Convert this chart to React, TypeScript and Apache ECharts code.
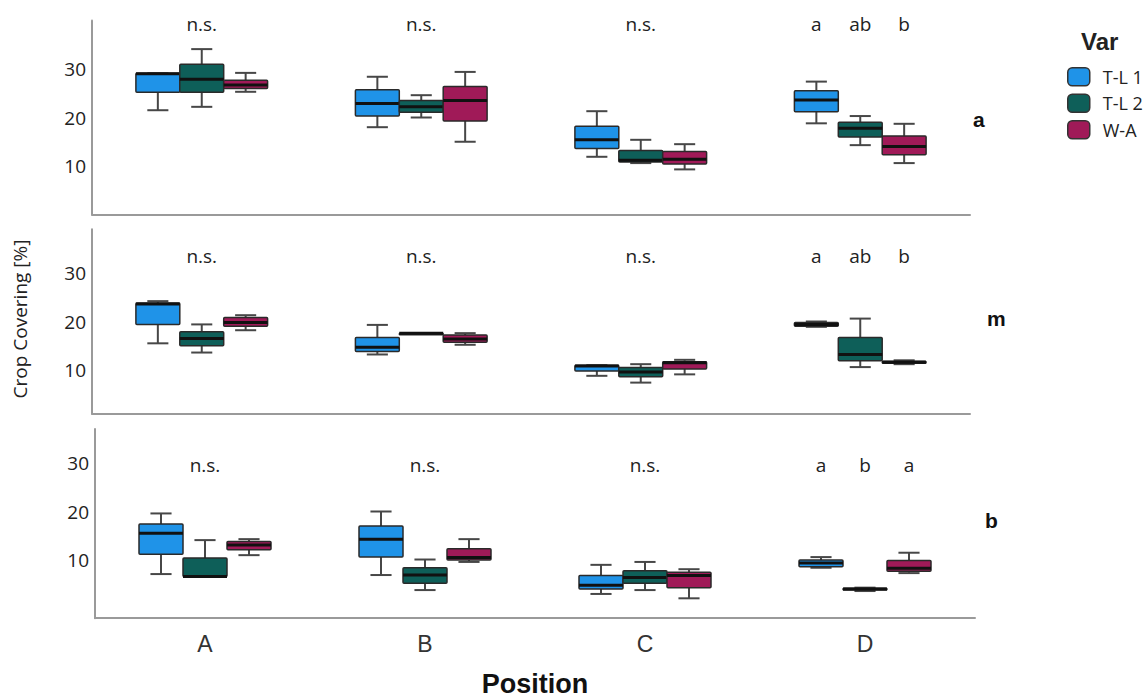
import React, { useEffect, useRef } from "react";
import * as echarts from "echarts";

const categories = ["A", "B", "C", "D"];
const varNames = ["T-L 1", "T-L 2", "W-A"];
const varColors = ["#1F93E8", "#0E5F59", "#A01A58"];
const panelLabels = ["a", "m", "b"];
const yTicks = [10, 20, 30];

// box statistics per position A..D: [min, Q1, median, Q3, max]
const aTL1 = [[21.5, 25.2, 29.0, 29.1, 29.1], [18.0, 20.3, 22.9, 25.7, 28.4], [11.9, 13.6, 15.4, 18.2, 21.3], [18.8, 21.2, 23.6, 25.5, 27.4]];
const aTL2 = [[22.2, 25.2, 27.9, 31.0, 34.1], [20.0, 21.1, 22.2, 23.5, 24.6], [10.6, 10.8, 11.2, 13.2, 15.4], [14.3, 16.0, 17.8, 19.0, 20.3]];
const aWA = [[25.3, 26.0, 26.7, 27.7, 29.2], [15.0, 19.3, 23.5, 26.4, 29.4], [9.3, 10.4, 11.4, 13.0, 14.5], [10.6, 12.3, 14.0, 16.2, 18.7]];

const mTL1 = [[15.5, 19.4, 23.6, 23.8, 24.2], [13.2, 13.8, 14.7, 16.7, 19.3], [8.8, 9.8, 10.8, 11.0, 11.0], [18.9, 19.0, 19.4, 19.8, 20.0]];
const mTL2 = [[13.6, 15.0, 16.5, 17.9, 19.4], [17.5, 17.5, 17.6, 17.6, 17.6], [7.4, 8.6, 9.6, 10.5, 11.2], [10.6, 11.9, 13.2, 16.7, 20.6]];
const mWA = [[18.2, 19.0, 19.8, 20.8, 21.3], [15.2, 15.7, 16.4, 17.2, 17.6], [9.1, 10.2, 11.5, 11.7, 12.1], [11.2, 11.4, 11.6, 11.8, 12.0]];

const bTL1 = [[7.1, 11.2, 15.5, 17.4, 19.6], [6.9, 10.6, 14.3, 17.0, 20.0], [3.0, 4.0, 4.8, 6.8, 9.0], [8.4, 8.6, 9.4, 10.0, 10.6]];
const bTL2 = [[6.6, 6.6, 6.6, 10.4, 14.1], [3.8, 5.2, 6.9, 8.4, 10.1], [3.8, 5.2, 6.4, 7.8, 9.6], [3.6, 3.8, 4.0, 4.2, 4.3]];
const bWA = [[11.0, 12.1, 13.1, 13.8, 14.3], [9.6, 10.0, 10.5, 12.3, 14.3], [2.1, 4.3, 6.8, 7.5, 8.1], [7.3, 7.7, 8.3, 9.9, 11.5]];

// significance letters per position (one per box for D)
const sigA = [["n.s."], ["n.s."], ["n.s."], ["a", "ab", "b"]];
const sigM = [["n.s."], ["n.s."], ["n.s."], ["a", "ab", "b"]];
const sigB = [["n.s."], ["n.s."], ["n.s."], ["a", "b", "a"]];

// layout (pixels / axis ranges)
const BOX_FRAC = 0.2;
const panels = [
  { series: [aTL1, aTL2, aWA], sig: sigA, left: 92, top: 20.5, width: 878, height: 194, min: 0, max: 40, sigY: 39.3, labelX: 973, labelY: 119 },
  { series: [mTL1, mTL2, mWA], sig: sigM, left: 92, top: 229.35, width: 878, height: 184.3, min: 1, max: 39, sigY: 33.5, labelX: 987, labelY: 318 },
  { series: [bTL1, bTL2, bWA], sig: sigB, left: 95, top: 429.05, width: 880, height: 189.15, min: -2, max: 37, sigY: 29.6, labelX: 985, labelY: 520 },
];

function makeBoxRender(vi: number, color: string) {
  return (params: any, api: any) => {
    const cat = api.value(0);
    const lo = api.value(1), q1 = api.value(2), med = api.value(3), q3 = api.value(4), hi = api.value(5);
    const band = api.size([1, 0])[0];
    const bw = band * BOX_FRAC;
    const base = api.coord([cat, med]);
    const cx = base[0] + (vi - 1) * bw;
    const yv = (v: number) => api.coord([cat, v])[1];
    const yLo = yv(lo), yQ1 = yv(q1), yMed = base[1], yQ3 = yv(q3), yHi = yv(hi);
    const cap = bw * 0.48;
    const ws = { stroke: "#474747", lineWidth: 2 };
    return {
      type: "group",
      children: [
        { type: "line", shape: { x1: cx, y1: yHi, x2: cx, y2: yQ3 }, style: ws },
        { type: "line", shape: { x1: cx, y1: yQ1, x2: cx, y2: yLo }, style: ws },
        { type: "line", shape: { x1: cx - cap / 2, y1: yHi, x2: cx + cap / 2, y2: yHi }, style: ws },
        { type: "line", shape: { x1: cx - cap / 2, y1: yLo, x2: cx + cap / 2, y2: yLo }, style: ws },
        {
          type: "rect",
          shape: { x: cx - bw / 2, y: yQ3, width: bw, height: Math.max(yQ1 - yQ3, 1.5), r: 1 },
          style: { fill: color, stroke: "#2a2a2a", lineWidth: 1.5 },
        },
        { type: "line", shape: { x1: cx - bw / 2, y1: yMed, x2: cx + bw / 2, y2: yMed }, style: { stroke: "#111", lineWidth: 3 } },
      ],
    };
  };
}

function makeSigSeries(p: number) {
  const panel = panels[p];
  const flat: { cat: number; off: number; text: string }[] = [];
  panel.sig.forEach((labels, ci) => {
    labels.forEach((t, j) => {
      flat.push({ cat: ci, off: labels.length === 1 ? 0 : j - 1, text: t });
    });
  });
  return {
    type: "custom",
    xAxisIndex: p,
    yAxisIndex: p,
    silent: true,
    data: flat.map((f) => [f.cat, panel.sigY]),
    encode: { x: 0, y: 1 },
    renderItem: (params: any, api: any) => {
      const item = flat[params.dataIndex];
      const band = api.size([1, 0])[0];
      const pt = api.coord([item.cat, panel.sigY]);
      return {
        type: "text",
        x: pt[0] + item.off * band * BOX_FRAC,
        y: pt[1],
        style: {
          text: item.text,
          textAlign: "center",
          textVerticalAlign: "middle",
          font: '19px "Open Sans"',
          fill: "#222",
        },
      };
    },
  };
}

export default function App() {
  const ref = useRef<HTMLDivElement>(null);
  useEffect(() => {
    if (!ref.current) return;
    const chart = echarts.init(ref.current, undefined, { renderer: "svg" });
    const grids = panels.map((p) => ({
      left: p.left,
      top: p.top,
      width: p.width,
      height: p.height,
      containLabel: false,
      outerBoundsMode: "none",
    }));
    const xAxes = panels.map((p, i) => ({
      type: "category",
      gridIndex: i,
      data: categories,
      boundaryGap: true,
      axisTick: { show: false },
      axisLine: { show: true, onZero: false, lineStyle: { color: "#9a9a9a", width: 2 } },
      axisLabel: {
        show: i === 2,
        fontSize: 23,
        fontFamily: "Liberation Sans",
        color: "#333",
        margin: 14,
      },
      name: i === 2 ? "Position" : "",
      nameLocation: "middle",
      nameGap: 52,
      nameTextStyle: { fontSize: 27, fontWeight: "bold", fontFamily: "Liberation Sans", color: "#111" },
      splitLine: { show: false },
    }));
    const yAxes = panels.map((p, i) => ({
      type: "value",
      gridIndex: i,
      min: p.min,
      max: p.max,
      splitLine: { show: false },
      axisTick: { show: false },
      axisLine: { show: true, onZero: false, lineStyle: { color: "#9a9a9a", width: 2 } },
      axisLabel: {
        customValues: yTicks,
        fontSize: 19,
        fontFamily: "Open Sans",
        color: "#222",
        margin: 6,
      },
    }));
    const series: any[] = [];
    panels.forEach((p, pi) => {
      p.series.forEach((arr, vi) => {
        series.push({
          type: "custom",
          name: varNames[vi],
          xAxisIndex: pi,
          yAxisIndex: pi,
          itemStyle: { color: varColors[vi] },
          data: arr.map((s, ci) => [ci, ...s]),
          encode: { x: 0, y: [1, 2, 3, 4, 5] },
          renderItem: makeBoxRender(vi, varColors[vi]),
        });
      });
      series.push(makeSigSeries(pi));
    });
    chart.setOption({
      animation: false,
      backgroundColor: "#ffffff",
      title: {
        text: "Var",
        left: 1076,
        top: 24,
        textStyle: { fontSize: 24, fontWeight: "bold", fontFamily: "Liberation Sans", color: "#222" },
      },
      legend: {
        orient: "vertical",
        left: 1062,
        top: 62,
        itemWidth: 22,
        itemHeight: 18,
        itemGap: 7,
        selectedMode: false,
        icon: "roundRect",
        textStyle: { fontSize: 18, fontFamily: "Open Sans", color: "#222", padding: [0, 0, 0, 8] },
        data: varNames.map((n, i) => ({
          name: n,
          itemStyle: { color: varColors[i], borderColor: "#333", borderWidth: 1.5 },
        })),
      },
      grid: grids,
      xAxis: xAxes,
      yAxis: yAxes,
      series,
      graphic: [
        {
          type: "text",
          x: 20,
          y: 319,
          rotation: Math.PI / 2,
          style: {
            text: "Crop Covering [%]",
            font: '19px "Open Sans"',
            fill: "#222",
            textAlign: "center",
            textVerticalAlign: "middle",
          },
        },
        ...panels.map((p, i) => ({
          type: "text",
          x: p.labelX,
          y: p.labelY,
          style: {
            text: panelLabels[i],
            font: 'bold 21px "Liberation Sans"',
            fill: "#111",
            textAlign: "left",
            textVerticalAlign: "middle",
          },
        })),
      ],
    });
    return () => chart.dispose();
  }, []);
  return (
    <div
      ref={ref}
      style={{ position: "absolute", left: 0, top: 0, width: 1143, height: 699, background: "#fff" }}
    />
  );
}
